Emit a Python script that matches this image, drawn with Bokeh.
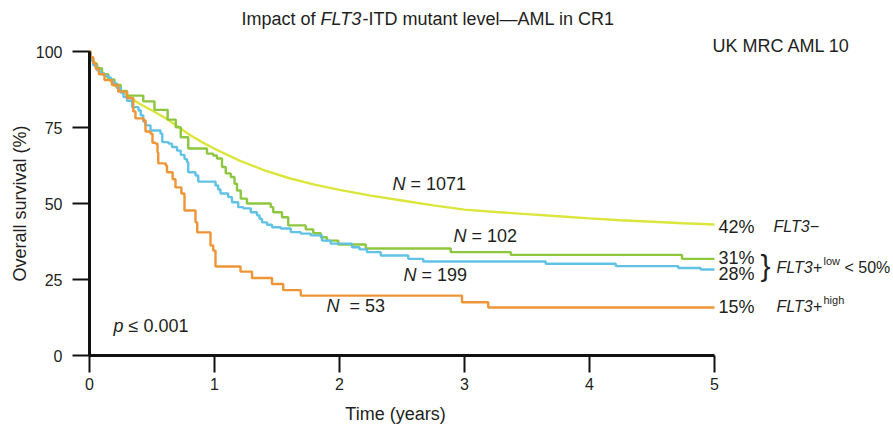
import math
from bokeh.plotting import figure
from bokeh.models import Label, Range1d, FixedTicker
from bokeh.embed import file_html
from bokeh.resources import INLINE

# ---------------- data ----------------
years_ticks = [0, 1, 2, 3, 4, 5]
surv_ticks = [0, 25, 50, 75, 100]

# FLT3- (N = 1071): smooth curve
neg_t = [0, 0.01, 0.05, 0.1, 0.2, 0.3, 0.4, 0.5, 0.6, 0.7, 0.8, 0.9, 1.0, 1.2, 1.4,
         1.6, 1.8, 2.0, 2.25, 2.5, 2.75, 3.0, 3.25, 3.5, 3.75, 4.0, 4.25, 4.5, 4.75, 5.0]
neg_s = [100, 98.0, 95.8, 93.3, 88.8, 85.5, 82.8, 80.6, 78.3, 75.5, 72.6, 70.2, 68.0, 64.1, 60.9,
         58.3, 56.2, 54.5, 52.6, 51.0, 49.4, 48.0, 47.2, 46.5, 45.8, 45.1, 44.5, 44.0, 43.5, 43.1]

# FLT3+ low, N = 102 (green)
g_t = [0, 0.008, 0.03, 0.06, 0.10, 0.15, 0.20, 0.25, 0.30, 0.43, 0.52, 0.625, 0.69, 0.73,
       0.79, 0.94, 0.99, 1.02, 1.06, 1.09, 1.13, 1.16, 1.18, 1.21, 1.26, 1.45, 1.47, 1.54,
       1.59, 1.73, 1.79, 1.85, 1.90, 1.99, 2.21, 2.89, 3.37, 4.74, 5.0]
g_s = [100, 97.7, 96.0, 94.5, 92.5, 90.8, 89.0, 87.0, 85.5, 83.6, 80.8, 77.6, 75.1, 71.8,
       68.1, 66.4, 65.8, 64.8, 62.0, 59.9, 58.7, 56.5, 54.3, 51.6, 50.0, 48.8, 47.1, 45.5,
       42.8, 41.5, 40.2, 38.9, 37.8, 36.5, 35.2, 34.0, 33.1, 31.8, 31.8]

# FLT3+ low, N = 199 (blue)
b_t = [0, 0.008, 0.03, 0.06, 0.088, 0.12, 0.152, 0.17, 0.192, 0.22, 0.25, 0.272, 0.30, 0.342,
       0.392, 0.41, 0.43, 0.448, 0.488, 0.568, 0.582, 0.632, 0.66, 0.70, 0.73, 0.76, 0.78, 0.79,
       0.848, 0.87, 1.008, 1.03, 1.048, 1.11, 1.14, 1.19, 1.23, 1.29, 1.34, 1.36, 1.38, 1.42,
       1.46, 1.53, 1.61, 1.69, 1.77, 1.86, 1.93, 2.10, 2.16, 2.22, 2.33, 2.55, 2.67, 3.65,
       4.21, 4.71, 4.89, 5.0]
b_s = [100, 97.0, 95.5, 93.8, 92.8, 92.0, 91.5, 90.5, 89.5, 88.0, 86.5, 85.0, 83.8, 81.7,
       80.6, 79.0, 77.0, 75.7, 74.0, 73.0, 70.2, 69.7, 68.6, 67.4, 66.0, 64.6, 63.6, 60.3,
       59.2, 57.2, 55.9, 54.6, 53.3, 52.1, 50.4, 48.8, 48.4, 47.1, 46.1, 45.0, 43.8, 43.0,
       42.2, 41.8, 40.6, 40.1, 39.5, 37.8, 36.8, 35.6, 34.9, 34.0, 32.9, 31.8, 30.9, 30.2,
       29.4, 28.8, 28.3, 28.3]

# FLT3+ high, N = 53 (orange)
o_t = [0, 0.008, 0.03, 0.05, 0.075, 0.12, 0.18, 0.23, 0.30, 0.35, 0.368, 0.432, 0.448, 0.488,
       0.504, 0.528, 0.544, 0.55, 0.61, 0.62, 0.665, 0.688, 0.735, 0.76, 0.848, 0.862, 0.968,
       0.99, 1.008, 1.208, 1.30, 1.46, 1.55, 1.69, 2.98, 3.19, 5.0]
o_s = [100, 98.1, 96.2, 94.3, 92.5, 90.6, 89.0, 86.8, 84.7, 80.3, 78.0, 77.3, 73.7, 73.0,
       70.0, 69.7, 66.8, 63.2, 62.5, 60.3, 58.0, 55.3, 53.3, 47.7, 43.8, 40.5, 36.2,
       34.5, 29.3, 27.6, 25.5, 23.5, 21.5, 19.7, 17.5, 15.8, 15.8]

# ---------------- figure ----------------
FONT = "Liberation Sans"
TXT = "#231F20"
W, H = 890, 424
X0, Y0 = 89, 355          # canvas position of the data origin
PX_X, PX_Y = 125.0, 3.04  # pixels per year, pixels per percent

p = figure(width=W, height=H,
           x_range=Range1d(-X0 / PX_X, (W - X0) / PX_X),
           y_range=Range1d((Y0 - H) / PX_Y, Y0 / PX_Y),
           output_backend="svg", toolbar_location=None,
           min_border=0, min_border_left=0, min_border_right=0,
           min_border_top=0, min_border_bottom=0)
p.grid.visible = False
p.outline_line_color = None
p.background_fill_color = "white"
p.border_fill_color = "white"

for ax, ticks, bounds, standoff in ((p.xaxis, years_ticks, (0, 5), 5),
                                    (p.yaxis, surv_ticks, (0, 100), 10)):
    ax.fixed_location = 0
    ax.ticker = FixedTicker(ticks=ticks)
    ax.bounds = bounds
    ax.axis_line_width = 3
    ax.axis_line_color = "#111111"
    ax.major_tick_line_width = 2
    ax.major_tick_line_color = "#111111"
    ax.major_tick_out = 17
    ax.major_tick_in = 0
    ax.minor_tick_out = 0
    ax.minor_tick_in = 0
    ax.major_label_text_font = FONT
    ax.major_label_text_font_size = "16px"
    ax.major_label_text_color = TXT
    ax.major_label_standoff = standoff

LW = 2.4
p.line(neg_t, neg_s, line_color="#DCE53B", line_width=LW)
p.step(g_t, g_s, mode="after", line_color="#8DC63F", line_width=LW)
p.step(b_t, b_s, mode="after", line_color="#62C2E6", line_width=LW)
p.step(o_t, o_s, mode="after", line_color="#EE9537", line_width=LW)


def sx(X):
    return (X - X0) / PX_X


def sy(Y):
    return (Y0 - Y) / PX_Y


def lab(X, Y, text, size, style="normal", align="left", angle=0.0):
    p.add_layout(Label(x=sx(X), y=sy(Y), text=text, text_font=FONT,
                       text_font_size=f"{size}px", text_font_style=style,
                       text_align=align, text_baseline="middle", angle=angle,
                       text_color=TXT))


# title with italic gene name
lab(241, 18, "Impact of", 18)
lab(320, 18, "FLT3", 18, "italic")
lab(362, 18, "-ITD mutant level\u2014AML in CR1", 18)
lab(712, 45, "UK MRC AML 10", 18)

# axis titles
lab(19, 203, "Overall survival (%)", 18, align="center", angle=math.pi / 2)
lab(395, 413, "Time (years)", 18, align="center")

# N annotations
for X, Y, rest, gap in ((392, 183, "= 1071", 18), (453, 235, "= 102", 18),
                        (403, 274, "= 199", 18), (326, 305, "= 53", 23)):
    lab(X, Y, "N", 18, "italic")
    lab(X + gap, Y, rest, 18)
lab(113, 325, "p", 18, "italic")
lab(128, 325, "\u2264 0.001", 18)

# right-hand labels
lab(718, 226, "42%", 18)
lab(773, 226, "FLT3\u2212", 16, "italic")
lab(718, 257, "31%", 18)
lab(718, 273, "28%", 18)
lab(760, 265, "}", 30)
lab(776, 267, "FLT3+", 16, "italic")
lab(823, 260, "low", 11)
lab(844, 267, "< 50%", 16)
lab(718, 306, "15%", 18)
lab(776, 306, "FLT3+", 16, "italic")
lab(823, 299, "high", 11)

open("out.html", "w").write(file_html(p, INLINE))
